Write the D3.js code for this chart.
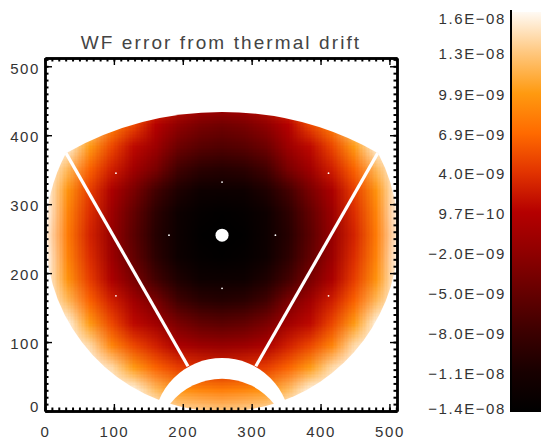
<!DOCTYPE html>
<head>
    <meta charset='utf-8'>
    <style>
        html, body { margin: 0; padding: 0; background: #fff; }
        svg { display: block; }
        text {
            font-family: 'Liberation Sans', Arial, sans-serif;
            fill: #333;
        }
        .tick text { font-size: 15px; letter-spacing: 1.6px; }
        .title { font-size: 19px; letter-spacing: 2.1px; fill: #444; }
        .ticks line, .ticks path { stroke: #000; }
    </style>
</head>

<body>
<div id='vis'></div>
<script src='https://cdn.jsdelivr.net/npm/d3@7'></script>
<script>
  const title = 'WF error from thermal drift'
  const axisTicks = [0, 100, 200, 300, 400, 500]
  const minorTicks = d3.range(0, 511, 10)

  // colorbar, values in units of 1E-9
  const barValues = [16, 13, 9.9, 6.9, 4, 0.97, -2, -5, -8, -11, -14]
  const barLabels = ['1.6E\u221208', '1.3E\u221208', '9.9E\u221209', '6.9E\u221209', '4.0E\u221209', '9.7E\u221210',
    '\u22122.0E\u221209', '\u22125.0E\u221209', '\u22128.0E\u221209', '\u22121.1E\u221208', '\u22121.4E\u221208']

  const rampValues = [-14, -11, -8, -5, -2, 1, 4, 6.9, 9.9, 13, 16]
  const rampColors = ['#000000', '#180000', '#3c0000', '#660000', '#900000', '#b50000',
    '#e23400', '#ff6a00', '#ff9a10', '#ffc880', '#fffaf4']

  // wavefront error, 1E-9 units, one row every 32 pixels, top row first
  const gridStep = 32
  const field = [
    [16, 16, 16, 16, 16, 16, 16, 16, 15.4, 16, 16, 16, 16, 16, 16, 16, 16],
    [16, 16, 16, 16, 15.5, 12, 9.5, 8.5, 8, 8.5, 9.5, 12, 15.5, 16, 16, 16, 16],
    [16, 16, 16, 14, 10, 5, 2.2, 1, 0.5, 1, 2.2, 5, 10, 14, 16, 16, 16],
    [16, 16, 14, 8.5, 5, 1, -2, -3.6, -4.2, -3.6, -2, 1, 5, 8.5, 14, 16, 16],
    [16, 15.5, 10, 5, 1.5, -1, -4.5, -6, -6.6, -6, -4.5, -1, 1.5, 5, 10, 15.5, 16],
    [16, 12, 6.5, 2.8, -0.6, -3.6, -7.6, -9.3, -9.8, -9.3, -7.6, -3.6, -0.6, 2.8, 6.5, 12, 16],
    [16, 9.5, 4.5, 0.2, -3.6, -7.6, -10.5, -12.2, -12.4, -12.2, -10.5, -7.6, -3.6, 0.2, 4.5, 9.5, 16],
    [16, 8.5, 3.6, -1, -5.2, -9.3, -12.2, -13.4, -13.7, -13.4, -12.2, -9.3, -5.2, -1, 3.6, 8.5, 16],
    [15.4, 8, 3, -1.4, -5.8, -9.8, -12.4, -13.7, -14, -13.7, -12.4, -9.8, -5.8, -1.4, 3, 8, 15.4],
    [16, 8.5, 3.6, -1, -5.2, -9.3, -12.2, -13.4, -13.7, -13.4, -12.2, -9.3, -5.2, -1, 3.6, 8.5, 16],
    [16, 9.5, 4.5, 0.2, -3.6, -7.6, -10.5, -12.2, -12.4, -12.2, -10.5, -7.6, -3.6, 0.2, 4.5, 9.5, 16],
    [16, 12, 6.5, 2.8, -0.6, -3.6, -7.6, -9.3, -9.8, -9.3, -7.6, -3.6, -0.6, 2.8, 6.5, 12, 16],
    [16, 15.5, 10, 5, 1.5, -0.6, -3.6, -5.2, -5.8, -5.2, -3.6, -0.6, 1.5, 5, 10, 15.5, 16],
    [16, 16, 14, 8.5, 5, 2.8, 0.2, -1, -1.4, -1, 0.2, 2.8, 5, 8.5, 14, 16, 16],
    [16, 16, 16, 14, 10, 6.5, 4.5, 3.6, 3, 3.6, 4.5, 6.5, 10, 14, 16, 16, 16],
    [16, 16, 16, 16, 15.5, 12, 9.5, 8.5, 8, 8.5, 9.5, 12, 15.5, 16, 16, 16, 16],
    [16, 16, 16, 16, 16, 16, 14, 13.5, 13, 13.5, 14, 16, 16, 16, 16, 16, 16]
  ]

  // pupil outline in image pixels
  const pupil = { cx: 257, cy: 255, r: 256 }
  const topEdge = { cx: 257, cy: -26, r: 460 }
  const bandOuter = { cx: 257, cy: -22, r: 99 }
  const bandInner = { cx: 257, cy: -49, r: 96 }
  const hole = { cx: 257, cy: 255, r: 9.5 }
  const struts = [
    [[30.5, 374], [207.6, 65]],
    [[483, 374], [306, 65]]
  ]
  const specks = [
    [257, 332], [257, 178], [180, 255], [334.5, 255],
    [103, 345], [103, 167], [411.6, 345], [411.6, 167]
  ]

  const svg = d3.select('#vis')
    .append('svg')
    .attr('width', 542)
    .attr('height', 441)

  const x = d3.scaleLinear().domain([0, 511]).range([45, 397])
  const y = d3.scaleLinear().domain([0, 512]).range([411, 58])
  const color = d3.scaleLinear().domain(rampValues).range(rampColors)
  const barY = d3.scaleLinear().domain([-14, 16]).range([412, 12])

  const r = d => x(d) - x(0)

  // paint the grid on a tiny canvas, the browser smooths it when stretched
  const canvas = document.createElement('canvas')
  canvas.width = field[0].length
  canvas.height = field.length
  const ctx = canvas.getContext('2d')
  field.forEach((row, j) => row.forEach((v, i) => {
    ctx.fillStyle = color(v)
    ctx.fillRect(i, j, 1, 1)
  }))
  const fieldUrl = canvas.toDataURL()

  const defs = svg.append('defs')

  function addClip(id, c, parent) {
    const clip = defs.append('clipPath').attr('id', id)
    if (parent) clip.attr('clip-path', `url(#${parent})`)
    clip.append('circle')
      .attr('cx', x(c.cx))
      .attr('cy', y(c.cy))
      .attr('r', r(c.r))
  }
  defs.append('clipPath').attr('id', 'frame').append('rect')
    .attr('x', x(0)).attr('y', y(512))
    .attr('width', x(511) - x(0)).attr('height', y(0) - y(512))
  addClip('pupil', pupil, 'frame')
  addClip('main', topEdge, 'pupil')
  addClip('lower', bandInner, 'pupil')

  function drawField(clipId) {
    const half = gridStep / 2
    const n = field.length * gridStep
    svg.append('image')
      .attr('href', fieldUrl)
      .attr('x', x(-half))
      .attr('y', y(n - half))
      .attr('width', x(n - half) - x(-half))
      .attr('height', y(-half) - y(n - half))
      .attr('preserveAspectRatio', 'none')
      .attr('clip-path', `url(#${clipId})`)
  }

  drawField('main')

  // spider arms and central obscuration
  svg.append('g').selectAll('line')
    .data(struts)
    .join('line')
    .attr('x1', d => x(d[0][0]))
    .attr('y1', d => y(d[0][1]))
    .attr('x2', d => x(d[1][0]))
    .attr('y2', d => y(d[1][1]))
    .attr('stroke', '#fff')
    .attr('stroke-width', 3.2)

  svg.append('circle')
    .attr('cx', x(bandOuter.cx)).attr('cy', y(bandOuter.cy)).attr('r', r(bandOuter.r))
    .attr('fill', '#fff')

  drawField('lower')

  svg.append('circle')
    .attr('cx', x(hole.cx)).attr('cy', y(hole.cy)).attr('r', r(hole.r))
    .attr('fill', '#fff')

  svg.append('g').selectAll('circle')
    .data(specks)
    .join('circle')
    .attr('cx', d => x(d[0]))
    .attr('cy', d => y(d[1]))
    .attr('r', 0.9)
    .attr('fill', '#fff')

  // four sided frame, major and minor ticks point inward
  function drawAxis(axisFn, scale, translate, labelled, major) {
    const axis = axisFn(scale)
      .tickValues(major ? axisTicks : minorTicks)
      .tickSize(major ? -7 : -3.5)
      .tickSizeOuter(0)
      .tickPadding(major ? 10 : 0)
    if (!labelled) axis.tickFormat('')
    const g = svg.append('g')
      .attr('class', 'ticks')
      .attr('transform', translate)
      .call(axis)
    g.selectAll('line').attr('stroke-width', major ? 1.4 : 2)
    g.select('.domain').attr('stroke-width', 2.4)
    return g
  }

  const bottomG = drawAxis(d3.axisBottom, x, `translate(0,${y(0)})`, true, true)
  bottomG.selectAll('text').attr('dy', '1.05em')
  drawAxis(d3.axisBottom, x, `translate(0,${y(0)})`, false, false)
  const leftG = drawAxis(d3.axisLeft, y, `translate(${x(0)},0)`, true, true)
  leftG.selectAll('text').attr('dy', d => d === 0 ? '0.02em' : '0.45em').attr('x', -5)
  drawAxis(d3.axisLeft, y, `translate(${x(0)},0)`, false, false)
  drawAxis(d3.axisTop, x, `translate(0,${y(512)})`, false, true)
  drawAxis(d3.axisTop, x, `translate(0,${y(512)})`, false, false)
  drawAxis(d3.axisRight, y, `translate(${x(511)},0)`, false, true)
  drawAxis(d3.axisRight, y, `translate(${x(511)},0)`, false, false)

  svg.append('text')
    .attr('class', 'title')
    .attr('x', 221)
    .attr('y', 49)
    .attr('text-anchor', 'middle')
    .text(title)

  // colorbar
  const gradient = defs.append('linearGradient')
    .attr('id', 'ramp')
    .attr('x1', 0).attr('x2', 0).attr('y1', 1).attr('y2', 0)
  gradient.selectAll('stop')
    .data(rampValues)
    .join('stop')
    .attr('offset', d => (d + 14) / 30)
    .attr('stop-color', d => color(d))

  svg.append('rect')
    .attr('x', 512)
    .attr('y', barY(16))
    .attr('width', 29)
    .attr('height', barY(-14) - barY(16))
    .attr('fill', 'url(#ramp)')

  const barAxis = d3.axisLeft(barY)
    .tickValues(barValues)
    .tickFormat((d, i) => barLabels[i])
    .tickSize(0)
    .tickPadding(5)
  const barG = svg.append('g')
    .attr('class', 'ticks')
    .attr('transform', 'translate(511,0)')
    .call(barAxis)
  barG.select('.domain').attr('stroke-width', 2).attr('d', `M0,${barY(16) - 2}V${barY(-14)}`)
  barG.selectAll('text')
    .attr('dy', d => d === 16 ? '0.75em' : d === -14 ? '0.1em' : '0.42em')
</script>
</body>
